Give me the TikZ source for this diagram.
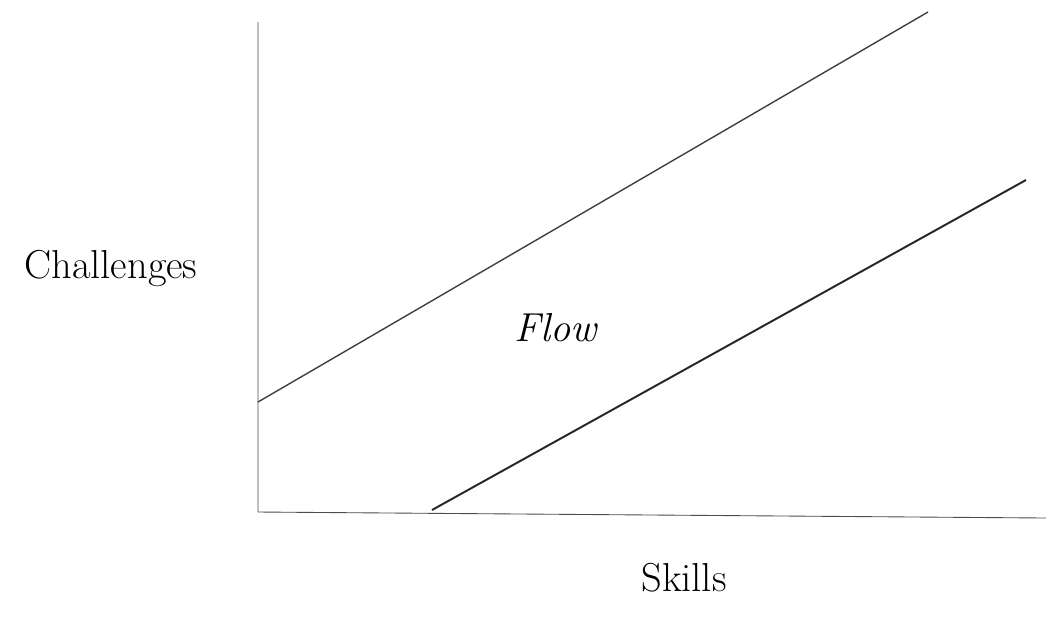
\documentclass[tikz,border=0pt]{standalone}
\usepackage{tikz}
\usetikzlibrary{positioning}

\begin{document}
\begin{tikzpicture}[
    x=0.2mm, y=-0.2mm,
    every node/.style={font=\fontsize{23}{27}\selectfont},
    axis/.style={line width=0.5pt, black!70},
    band/.style={line width=0.8pt, black!75},
    bandbold/.style={line width=1.1pt, black!85},
    label/.style={inner sep=0pt}
]
\useasboundingbox (0,0) rectangle (1048,625);

% ============ AXES ============
\coordinate (origin) at (258,512);
\coordinate (ytop) at (258,22);
\coordinate (xend) at (1046,518);
\draw[axis] (ytop) -- (origin) -- (xend);

% ============ FLOW CHANNEL ============
\coordinate (upstart) at (258,402);
\coordinate (upend) at (928,12);
\coordinate (lowstart) at (432,510);
\coordinate (lowend) at (1026,180);
\draw[band] (upstart) -- (upend);
\draw[bandbold] (lowstart) -- (lowend);

% ============ LABELS ============
\node[label] (challenges) at (111,268) {Challenges};
\node[label, font=\fontsize{23}{27}\selectfont\itshape] (flow) at (556,328) {Flow};
\node[label] (skills) at (684,578) {Skills};

\end{tikzpicture}
\end{document}
